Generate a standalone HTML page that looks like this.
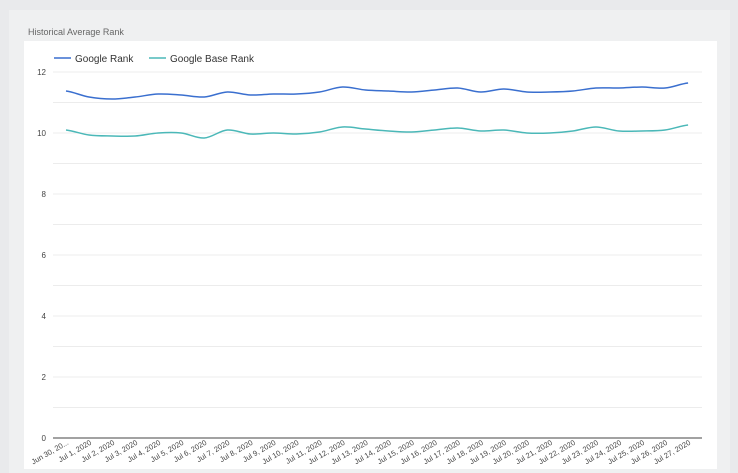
<!DOCTYPE html>
<html><head><meta charset="utf-8"><style>
body{margin:0;width:738px;height:473px;background:#e9eaec;font-family:"Liberation Sans",sans-serif;overflow:hidden}
</style></head><body>
<svg id="s" width="738" height="473" xmlns="http://www.w3.org/2000/svg" style="position:absolute;left:0;top:0">
<rect x="9" y="10" width="721" height="463" fill="#eff0f1"/>
<rect x="24" y="41" width="693" height="428" fill="#ffffff"/>
<text x="28" y="35" font-size="9" fill="#666">Historical Average Rank</text>
<line x1="54" y1="58" x2="71" y2="58" stroke="#3a6fcf" stroke-width="1.5"/>
<text x="75" y="62" font-size="10" fill="#333">Google Rank</text>
<line x1="149" y1="58" x2="166" y2="58" stroke="#4bb8b8" stroke-width="1.5"/>
<text x="170" y="62" font-size="10" fill="#333">Google Base Rank</text>
<g id="g"></g>
</svg>
<script>
var g=document.getElementById('g'),h='';
for(var i=0;i<=12;i++){var y=438-i*30.5;
h+='<line x1="53" y1="'+y+'" x2="702" y2="'+y+'" stroke="'+(i==0?'#444':'#ececec')+'" stroke-width="1"/>';
if(i%2==0)h+='<text x="46" y="'+(y+3)+'" font-size="8" fill="#444" text-anchor="end">'+i+'</text>';}
var labs=['Jun 30, 20...'];for(var d=1;d<=27;d++)labs.push('Jul '+d+', 2020');
var X=function(i){return 66+i*23.04};
labs.forEach(function(l,i){var x=X(i)+3;h+='<text transform="translate('+x+',444) rotate(-30)" font-size="7.5" fill="#444" text-anchor="end">'+l+'</text>';});
var a=[91,97,99,97,94,95,97,92,95,94,94,92,87,90,91,92,90,88,92,89,92,92,91,88,88,87,88,83];
var b=[130,135,136,136,133,133,138,130,134,133,134,132,127,129,131,132,130,128,131,130,133,133,131,127,131,131,130,125];
function path(v){var p='M'+X(0)+','+v[0];for(var i=0;i<v.length-1;i++){var p0=v[Math.max(0,i-1)],p3=v[Math.min(v.length-1,i+2)];
var c1y=v[i]+(v[i+1]-p0)/6,c2y=v[i+1]-(p3-v[i])/6;p+=' C'+(X(i)+23.04/3)+','+c1y+' '+(X(i+1)-23.04/3)+','+c2y+' '+X(i+1)+','+v[i+1];}return p;}
h+='<path d="'+path(a)+'" fill="none" stroke="#3a6fcf" stroke-width="1.5"/>';
h+='<path d="'+path(b)+'" fill="none" stroke="#4bb8b8" stroke-width="1.5"/>';
g.innerHTML=h;
</script>
</body></html>
